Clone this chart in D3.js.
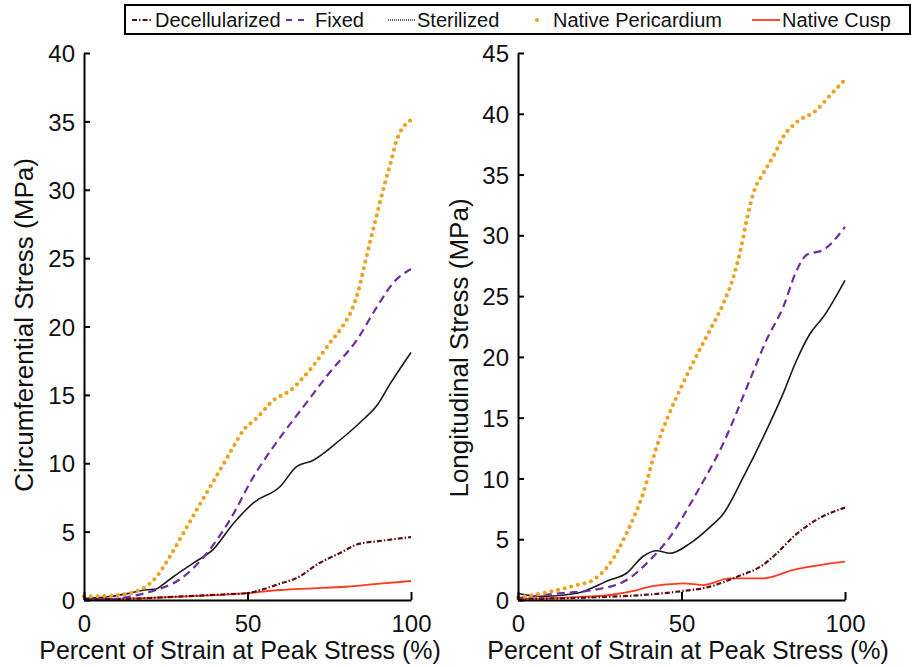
<!DOCTYPE html>
<html>
<head>
<meta charset="utf-8">
<script src="https://cdn.jsdelivr.net/npm/d3@7"></script>
<style>
  body { margin: 0; background: #fff; }
  text { font-family: "Liberation Sans", Arial, sans-serif; }
</style>
</head>
<body>
<div id="container"></div>
<script>
let w = 913;
let h = 667;

// data: [percent strain, stress MPa]
let seriesNames = ["Decellularized", "Fixed", "Sterilized", "Native Pericardium", "Native Cusp"];

let circDecell = [[0,0.05],[15,0.1],[29,0.25],[42,0.4],[50,0.5],[54,0.73],[60,1.2],[65,1.6],[72,2.7],[78,3.4],[84,4.1],[90,4.3],[100,4.6]];
let circFixed = [[0,0],[8,0.05],[14,0.25],[22,0.73],[29,1.46],[37.5,3.4],[44.6,5.85],[51.8,9],[60,11.9],[67,14.1],[75,16.6],[83.4,19],[89.5,21.4],[94.6,23.2],[100,24.2]];
let circSteril = [[0,0.1],[8,0.25],[14,0.5],[19,0.75],[22,0.8],[24,1.1],[27.3,1.7],[33.4,2.7],[39.5,3.7],[45.7,5.6],[51.8,7.1],[60,8.3],[65,9.75],[70,10.2],[78.3,11.7],[85.4,13.2],[89.5,14.2],[93.6,15.8],[100,18.1]];
let circPeri = [[0,0.25],[11,0.37],[18,0.85],[22.2,1.7],[26.3,3.2],[30.4,4.9],[34.5,6.6],[37.9,8],[41.6,9.5],[45.2,11],[48.7,12.4],[52.8,13.3],[57.9,14.6],[63.5,15.4],[66,16],[70,17.1],[75.2,18.8],[79.3,20.1],[81.9,21.2],[83.9,22.6],[85.8,24.5],[87.8,26.5],[89.8,28.4],[91.7,30.2],[93.8,32],[95.6,33.6],[100,35.1]];
let circCusp = [[0,0.05],[20,0.15],[35,0.3],[50,0.5],[60,0.73],[70,0.85],[80,0.97],[90.5,1.2],[100,1.39]];

let longDecell = [[0,0.1],[15,0.15],[28,0.27],[38,0.41],[48.5,0.68],[58.7,1.1],[66.9,1.9],[75,2.9],[79,3.8],[84.2,5.2],[91.3,6.6],[100,7.6]];
let longFixed = [[0,0.15],[12.8,0.55],[23,0.82],[33.2,1.64],[40.4,3.3],[46.5,5.2],[54.6,8.8],[62.8,12.9],[70.9,18.1],[76,21.4],[81.1,24.1],[85.2,27.1],[88.3,28.4],[93.4,28.8],[100,30.7]];
let longSteril = [[0,0.55],[4,0.35],[8,0.3],[18,0.55],[28,1.64],[33.2,2.2],[38.3,3.6],[42.4,4.05],[46.5,3.84],[52.6,4.66],[58.7,6],[62.8,7.1],[68.9,10.1],[75,13.4],[81.1,17],[85,19.6],[89.3,21.9],[93.4,23.3],[100,26.3]];
let longPeri = [[0,0.2],[1.6,0.27],[9.8,0.68],[18,1.23],[23,1.64],[28.1,3],[33.2,5.5],[38.3,8.8],[42.4,12.6],[45.9,15.1],[50.6,17.9],[54.6,20.1],[58.7,22.2],[62.8,24.4],[65.8,26.5],[67.9,28.6],[69.9,31.2],[71.9,33.4],[75,35.1],[78.1,36.5],[81.1,38.1],[85.2,39.3],[91.3,40.3],[95.4,41.5],[100,42.8]];
let longCusp = [[0,0.1],[15,0.2],[28,0.41],[34.3,0.68],[40.4,1.1],[46.5,1.3],[50.6,1.37],[56.7,1.23],[64.8,1.78],[75,1.78],[84.2,2.47],[100,3.15]];

let xTicks = [0, 50, 100];
let circTicks = [0, 5, 10, 15, 20, 25, 30, 35, 40];
let longTicks = [0, 5, 10, 15, 20, 25, 30, 35, 40, 45];

// line styles per series
let styles = {
  "Decellularized": {color: "#5a0f12", width: 2.2, dash: "5 2 1.5 2", cap: "butt"},
  "Fixed": {color: "#6b2fa0", width: 2.2, dash: "8 5", cap: "butt"},
  "Sterilized": {color: "#1a1a1a", width: 1.6, dash: null, cap: "butt"},
  "Native Pericardium": {color: "#f0a020", width: 4.2, dash: "0 6.8", cap: "round"},
  "Native Cusp": {color: "#ff3a1c", width: 1.8, dash: null, cap: "butt"}
};

let viz = d3.select("#container").append("svg")
    .attr("width", w)
    .attr("height", h);

function panel(x0, x1, yMax, ticks, data, title, titleX, titleY, xTitleX) {
  let x = d3.scaleLinear().domain([0, 100]).range([x0, x1]);
  let y = d3.scaleLinear().domain([0, yMax]).range([600, 53]);

  let line = d3.line()
      .x(d => x(d[0]))
      .y(d => y(d[1]))
      .curve(d3.curveMonotoneX);

  let g = viz.append("g");

  // draw order: cusp and decell at the bottom, pericardium on top
  let order = [4, 0, 2, 1, 3];
  order.forEach(function(i) {
    let s = styles[seriesNames[i]];
    g.append("path")
      .datum(data[i])
      .attr("d", line)
      .attr("fill", "none")
      .attr("stroke", s.color)
      .attr("stroke-width", s.width)
      .attr("stroke-dasharray", s.dash)
      .attr("stroke-linecap", s.cap);
  });

  let yAxis = g.append("g")
      .attr("transform", "translate(" + x0 + ",0)")
      .call(d3.axisLeft(y).tickValues(ticks).tickSize(-6).tickSizeOuter(0).tickPadding(9));
  let xAxis = g.append("g")
      .attr("transform", "translate(0,600)")
      .call(d3.axisBottom(x).tickValues(xTicks).tickSize(-8).tickSizeOuter(0).tickPadding(15));

  [yAxis, xAxis].forEach(function(a) {
    a.select(".domain").attr("stroke", "#000").attr("stroke-width", 2);
    a.selectAll(".tick line").attr("stroke", "#000").attr("stroke-width", 2);
    a.selectAll(".tick text")
      .attr("font-family", "Liberation Sans, Arial, sans-serif")
      .attr("font-size", 24)
      .attr("fill", "#111");
  });
  yAxis.selectAll(".tick text").attr("dy", "0.36em");
  xAxis.selectAll(".tick text").attr("dy", "0.71em");

  g.append("text")
    .attr("x", xTitleX)
    .attr("y", 659)
    .attr("text-anchor", "middle")
    .attr("font-size", 25)
    .attr("fill", "#111")
    .text("Percent of Strain at Peak Stress (%)");

  g.append("text")
    .attr("transform", "translate(" + titleX + "," + titleY + ") rotate(-90)")
    .attr("text-anchor", "middle")
    .attr("font-size", 26)
    .attr("fill", "#111")
    .text(title);
}

panel(84, 411, 40, circTicks, [circDecell, circFixed, circSteril, circPeri, circCusp], "Circumferential Stress (MPa)", 33, 325, 240);
panel(518, 845, 45, longTicks, [longDecell, longFixed, longSteril, longPeri, longCusp], "Longitudinal Stress (MPa)", 468, 348, 688);

// legend
let legend = viz.append("g");
legend.append("rect")
  .attr("x", 125).attr("y", 5)
  .attr("width", 785).attr("height", 29)
  .attr("fill", "#fff")
  .attr("stroke", "#000")
  .attr("stroke-width", 2);

let legendX = [132, 286, 388, 530, 752];
let legendSym = {
  "Decellularized": {dash: "5 2 1.5 2", len: 21, color: "#5a0f12", width: 2},
  "Fixed": {dash: "6 6", len: 20, color: "#6b2fa0", width: 2},
  "Sterilized": {dash: "1 1", len: 27, color: "#333", width: 1.4},
  "Native Pericardium": {dash: null, len: 0, color: "#f0a020", width: 0},
  "Native Cusp": {dash: null, len: 28, color: "#ff3a1c", width: 1.8}
};
let legendGap = [2, 9, 2, 0, 2];
seriesNames.forEach(function(name, i) {
  let s = legendSym[name];
  let lx = legendX[i];
  if (name === "Native Pericardium") {
    legend.append("circle")
      .attr("cx", lx + 7).attr("cy", 20).attr("r", 2)
      .attr("fill", s.color);
    legend.append("text")
      .attr("x", lx + 23).attr("y", 27)
      .attr("font-size", 20).attr("fill", "#111")
      .text(name);
  } else {
    legend.append("line")
      .attr("x1", lx).attr("x2", lx + s.len)
      .attr("y1", 20).attr("y2", 20)
      .attr("stroke", s.color)
      .attr("stroke-width", s.width)
      .attr("stroke-dasharray", s.dash);
    legend.append("text")
      .attr("x", lx + s.len + legendGap[i]).attr("y", 27)
      .attr("font-size", 20).attr("fill", "#111")
      .text(name);
  }
});
</script>
</body>
</html>
